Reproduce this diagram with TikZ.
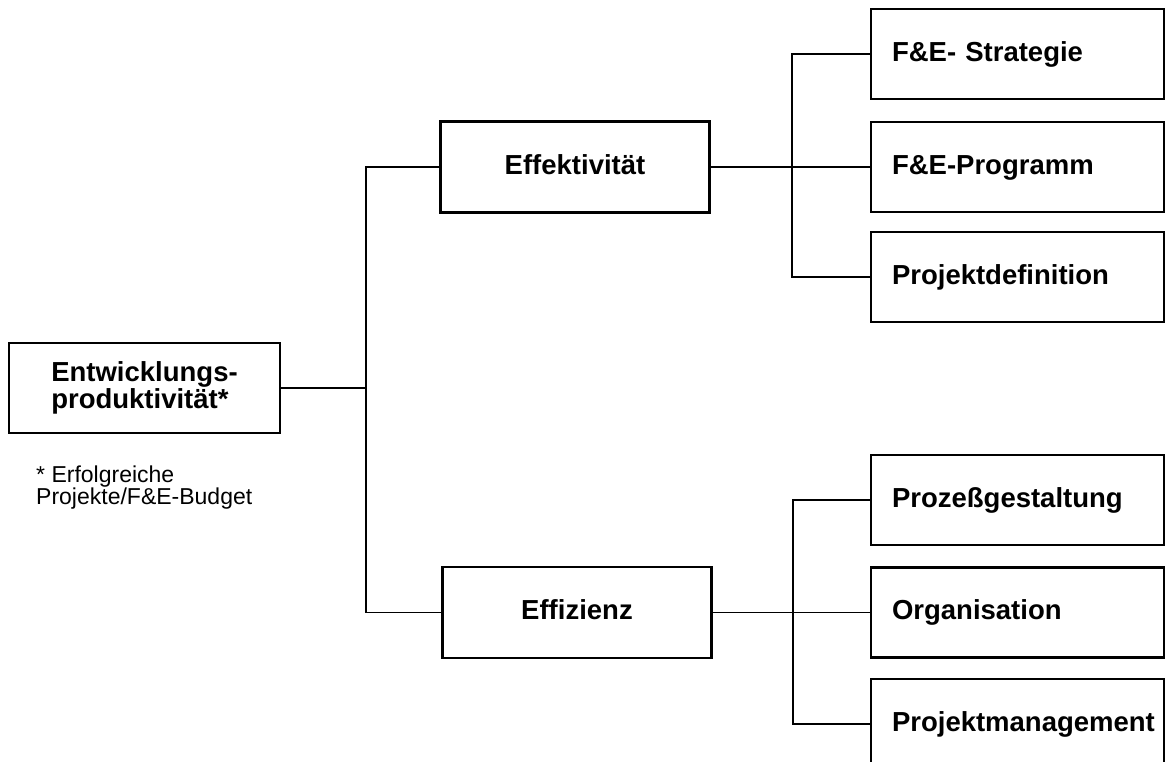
\documentclass[tikz,border=0pt]{standalone}
\usepackage{fontspec}
\setmainfont{Liberation Sans}
\begin{document}
\begin{tikzpicture}[x=1pt,y=-1pt,
  framed/.style={draw, line width=2.2pt, inner sep=0pt, font=\fontsize{27.5}{27}\selectfont\bfseries},
  onel/.style={framed, text height=19.5pt, text depth=5.5pt},
  rbox/.style={onel, minimum width=293pt, minimum height=90pt, text width=251pt, align=left},
  mbox/.style={onel, minimum width=269pt, minimum height=91pt},
  conn/.style={line width=1.8pt}]
\useasboundingbox (0,0) rectangle (1169,761);
% root
\node[framed, minimum width=271pt, minimum height=90pt, align=left] (root) at (144.5,388)
  {Entwicklungs-\\produktivität*};
\node[anchor=north west, inner sep=0pt, align=left, font=\fontsize{23}{22}\selectfont] (note) at (36,466)
  {* Erfolgreiche\\Projekte/F\&E-Budget};
% middle
\node[mbox] (effk) at (575,167) {Effektivität};
\node[mbox] (effz) at (577,612.5) {Effizienz};
% right upper
\node[rbox] (s1) at (1017.5,54) {F\&E- Strategie};
\node[rbox] (s2) at (1017.5,167) {F\&E-Programm};
\node[rbox] (s3) at (1017.5,277) {Projektdefinition};
% right lower
\node[rbox] (z1) at (1017.5,500) {Prozeßgestaltung};
\node[rbox] (z2) at (1017.5,612.5) {Organisation};
\node[rbox] (z3) at (1017.5,724) {Projektmanagement};
% junctions
\coordinate (j1) at (366,388);
\coordinate (j2) at (792,167);
\coordinate (j3) at (793,612.5);
% connectors
\draw[conn] (root.east) -- (j1);
\draw[conn] (effk.west) -| (j1);
\draw[conn] (effz.west) -| (j1);
\draw[conn] (effk.east) -- (j2);
\draw[conn] (s1.west) -| (j2);
\draw[conn] (s2.west) -- (j2);
\draw[conn] (s3.west) -| (j2);
\draw[conn] (effz.east) -- (j3);
\draw[conn] (z1.west) -| (j3);
\draw[conn] (z2.west) -- (j3);
\draw[conn] (z3.west) -| (j3);
\end{tikzpicture}
\end{document}
